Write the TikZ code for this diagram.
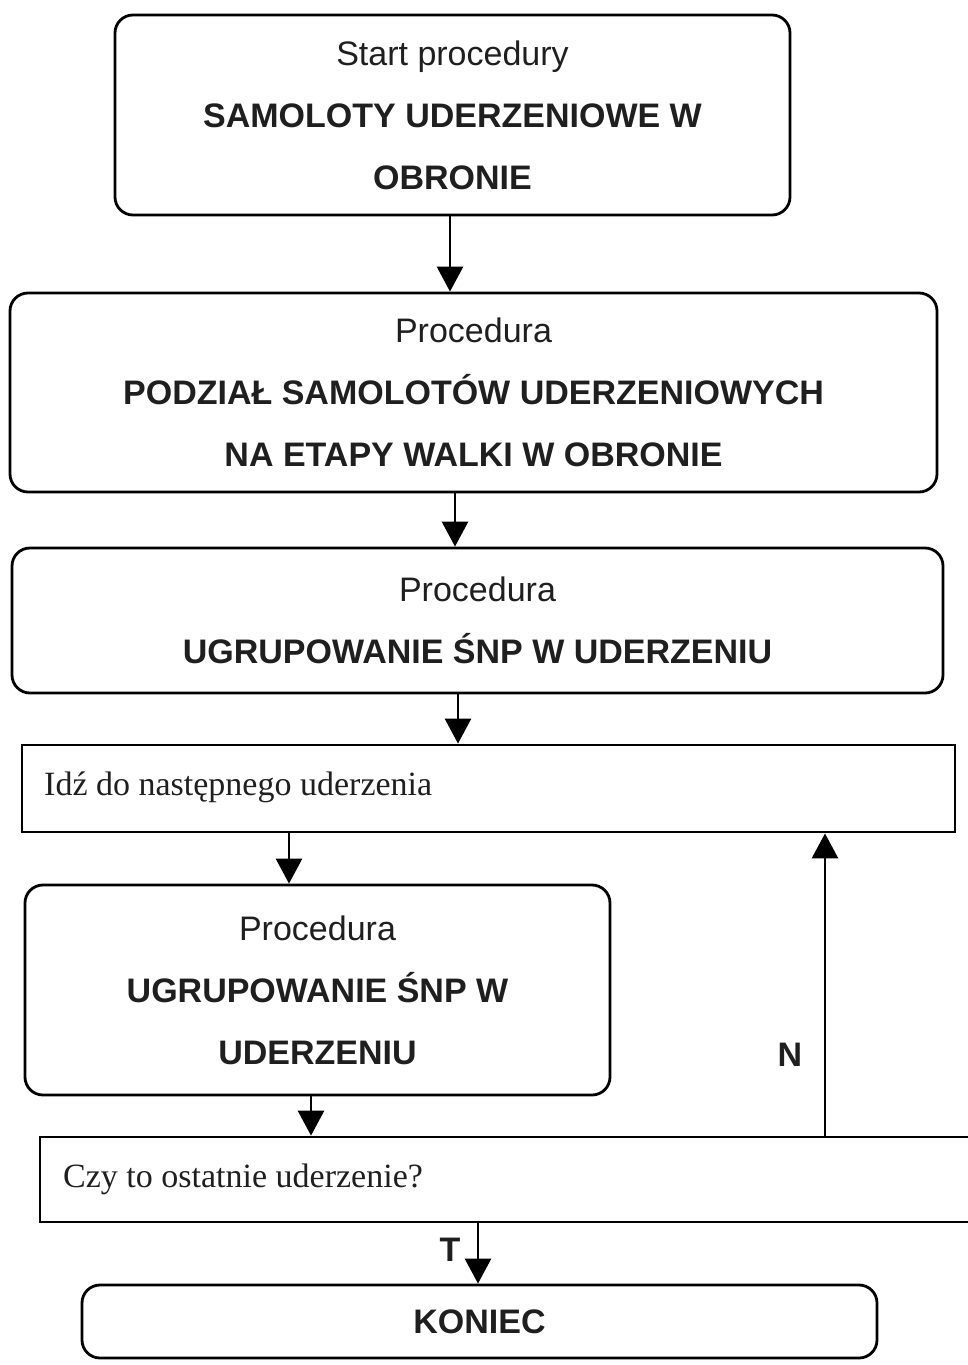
\documentclass[tikz,border=0pt]{standalone}
\usepackage{fontspec}
\setmainfont{Liberation Sans}
\newfontfamily\serifTNR{Liberation Serif}
\usetikzlibrary{arrows.meta}
\tikzset{
  x=1pt, y=-1pt,
  procbox/.style={draw, line width=2.8pt, rounded corners=18pt, align=center, inner sep=0pt,
    font=\fontsize{34}{62}\selectfont, text=black!88},
  rectbox/.style={draw, line width=2.8pt, inner sep=0pt},
  sertext/.style={anchor=west, inner sep=0pt, font=\serifTNR\fontsize{34}{40}\selectfont, text=black!88},
  arr/.style={line width=2.8pt, -{Triangle[length=25pt,width=26pt]}},
  lbl/.style={font=\fontsize{34}{40}\selectfont\bfseries, text=black!88},
}
\begin{document}
\begin{tikzpicture}
\useasboundingbox (0,0) rectangle (968,1365);
\node[procbox, minimum width=675pt, minimum height=200pt] (b1) at (452.5,115)
  {Start procedury\\\textbf{SAMOLOTY UDERZENIOWE W}\\\textbf{OBRONIE}};
\node[procbox, minimum width=927pt, minimum height=199pt] (b2) at (473.5,392.5)
  {Procedura\\\textbf{PODZIAŁ SAMOLOTÓW UDERZENIOWYCH}\\\textbf{NA ETAPY WALKI W OBRONIE}};
\node[procbox, minimum width=931pt, minimum height=145pt] (b3) at (477.5,620.5)
  {Procedura\\\textbf{UGRUPOWANIE ŚNP W UDERZENIU}};
\node[rectbox, minimum width=933pt, minimum height=87pt] (b4) at (488.5,788.5) {};
\node[sertext] (t4) at (44,787) {Idź do następnego uderzenia};
\node[procbox, minimum width=585pt, minimum height=210pt] (b5) at (317.5,990)
  {Procedura\\\textbf{UGRUPOWANIE ŚNP W}\\\textbf{UDERZENIU}};
\node[rectbox, minimum width=950pt, minimum height=85pt] (b6) at (515,1179.5) {};
\node[sertext] (t6) at (63,1179) {Czy to ostatnie uderzenie?};
\node[procbox, minimum width=795pt, minimum height=73pt] (b7) at (479.5,1321.5)
  {\textbf{KONIEC}};
\coordinate (x1) at (450,0);
\coordinate (x2) at (455,0);
\coordinate (x3) at (458,0);
\coordinate (x4) at (289,0);
\coordinate (x5) at (311,0);
\coordinate (xn) at (825,0);
\coordinate (xt) at (478,0);
\draw[arr] (x1 |- b1.south) -- (x1 |- b2.north);
\draw[arr] (x2 |- b2.south) -- (x2 |- b3.north);
\draw[arr] (x3 |- b3.south) -- (x3 |- b4.north);
\draw[arr] (x4 |- b4.south) -- (x4 |- b5.north);
\draw[arr] (x5 |- b5.south) -- (x5 |- b6.north);
\draw[arr] (xn |- b6.north) -- (xn |- b4.south);
\draw[arr] (xt |- b6.south) -- (xt |- b7.north);
\node[lbl] (ln) at (790,1055) {N};
\node[lbl] (lt) at (450,1250) {T};
\end{tikzpicture}
\end{document}
